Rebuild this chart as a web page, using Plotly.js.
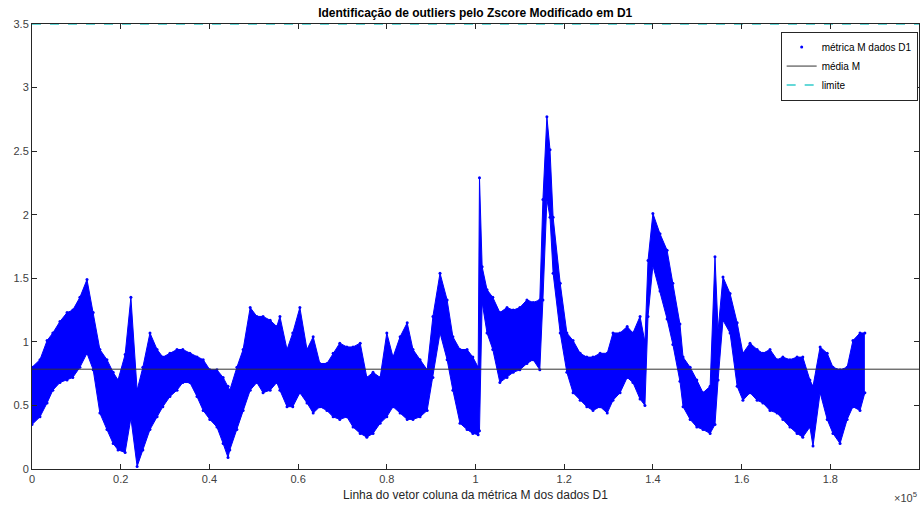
<!DOCTYPE html>
<html><head><meta charset="utf-8">
<script src="https://cdn.plot.ly/plotly-3.0.1.min.js"></script>
<style>html,body{margin:0;padding:0;background:#fff}</style>
</head><body>
<div id="chart" style="width:921px;height:509px"></div>
<script>
// Row index (vector row) samples along the band
const rows = [0,1800,3400,4700,6300,7900,9200,10800,12400,13800,15300,16900,18300,19400,21000,22300,23700,25000,26600,28200,29500,31100,32700,34000,35600,37200,38600,40100,41700,43100,44200,44600,46200,47600,49200,50700,52100,53700,55200,55900,57500,58800,60400,62000,63400,64900,66500,67900,69400,71000,72400,74000,75500,76900,78500,80000,81400,83000,84600,85900,87500,89100,90400,92000,93600,94900,96500,98100,99400,100600,100900,101500,102600,103900,105500,107100,108500,110000,111600,113000,114500,115200,116100,116800,117500,119100,120600,122000,123600,125100,126500,128100,129700,131000,132600,134200,135500,137100,138200,138900,140000,141600,143200,144500,146100,146800,148400,149900,151300,152900,154000,154700,155800,157400,159000,160300,161900,163500,164800,166400,168000,169300,170900,172500,173800,175400,176100,177700,179300,180600,182200,183800,185100,186700,187800];
// Upper envelope of metric M
const upperM = [0.80,0.86,1.01,1.07,1.16,1.23,1.25,1.35,1.49,1.23,0.94,0.86,0.76,0.70,0.90,1.35,0.62,0.80,1.07,0.94,0.88,0.91,0.94,0.94,0.91,0.88,0.86,0.78,0.78,0.72,0.65,0.62,0.80,0.94,1.27,1.20,1.20,1.17,1.12,1.20,0.94,1.07,1.27,0.94,1.04,0.83,0.83,0.91,0.99,0.96,0.96,0.99,0.72,0.76,0.72,1.07,0.88,1.04,1.15,0.94,0.86,0.78,1.20,1.54,1.33,1.04,0.94,0.94,0.88,0.80,2.29,1.59,1.41,1.35,1.23,1.27,1.25,1.27,1.33,1.31,1.33,2.12,2.77,2.51,1.98,1.46,1.07,1.01,0.91,0.88,0.88,0.91,0.91,1.07,1.07,1.12,1.07,1.20,1.00,1.64,2.01,1.85,1.72,1.46,1.14,0.88,0.80,0.70,0.60,0.65,1.67,1.09,1.51,1.38,1.15,0.91,0.99,0.94,0.91,0.94,0.86,0.88,0.86,0.88,0.88,0.70,0.65,0.96,0.91,0.80,0.78,0.80,1.01,1.07,1.07];
// Lower envelope of metric M
const lowerM = [0.35,0.41,0.52,0.62,0.68,0.70,0.72,0.80,0.91,0.78,0.44,0.31,0.20,0.15,0.13,0.40,0.02,0.15,0.31,0.41,0.49,0.57,0.62,0.68,0.68,0.57,0.46,0.39,0.33,0.20,0.09,0.15,0.31,0.46,0.62,0.68,0.60,0.62,0.68,0.62,0.49,0.49,0.60,0.52,0.44,0.49,0.46,0.41,0.39,0.41,0.33,0.28,0.25,0.28,0.36,0.41,0.49,0.44,0.39,0.39,0.41,0.46,0.72,1.07,0.86,0.62,0.36,0.31,0.28,0.27,0.30,1.31,1.07,0.94,0.68,0.72,0.76,0.78,0.83,0.86,0.78,1.33,2.12,1.98,1.54,1.07,0.76,0.60,0.54,0.49,0.46,0.49,0.44,0.54,0.60,0.72,0.68,0.55,0.50,1.20,1.60,1.40,1.18,0.98,0.69,0.49,0.39,0.33,0.31,0.28,0.35,0.70,1.17,1.07,0.65,0.54,0.60,0.54,0.52,0.46,0.44,0.39,0.33,0.28,0.25,0.33,0.18,0.60,0.39,0.28,0.20,0.39,0.49,0.46,0.60];
const meanM = 0.785;
const limitM = 3.5;
const xRange = [0, 200000];
const xTicks = [0,20000,40000,60000,80000,100000,120000,140000,160000,180000,200000];
const xTickText = ['0','0.2','0.4','0.6','0.8','1','1.2','1.4','1.6','1.8','2'];
const labels = {
  title: 'Identificação de outliers pelo Zscore Modificado em D1',
  xlabel: 'Linha do vetor coluna da métrica M dos dados D1',
  series: 'métrica M dados D1',
  mean: 'média M',
  limit: 'limite'
};

const blue = 'rgb(0,0,255)';
const traces = [
  {x: rows, y: lowerM, mode: 'lines', line: {color: blue, width: 1}, showlegend: false, hoverinfo: 'skip'},
  {x: rows, y: upperM, mode: 'lines', line: {color: blue, width: 1}, fill: 'tonexty', fillcolor: blue, showlegend: false, hoverinfo: 'skip'},
  {x: rows.concat(rows), y: upperM.concat(lowerM), mode: 'markers', marker: {color: blue, size: 3}, name: labels.series},
  {x: xRange, y: [meanM, meanM], mode: 'lines', line: {color: '#333333', width: 1}, name: labels.mean},
  {x: xRange, y: [limitM, limitM], mode: 'lines', line: {color: '#33cccc', width: 1.5, dash: 'dash'}, name: labels.limit}
];

const axisCommon = {
  showline: true, linecolor: '#262626', linewidth: 1, mirror: 'ticks',
  ticks: 'inside', ticklen: 5, tickcolor: '#262626', showgrid: false, zeroline: false,
  tickfont: {family: 'Liberation Sans, Arial, sans-serif', size: 11, color: '#404040'}
};

const layout = {
  width: 921, height: 509,
  margin: {l: 32, r: 2, t: 24, b: 40},
  paper_bgcolor: '#fff', plot_bgcolor: '#fff',
  title: {text: '<b>' + labels.title + '</b>', x: 0.516, xanchor: 'center', y: 0.975, yanchor: 'middle',
          font: {family: 'Liberation Sans, Arial, sans-serif', size: 12, color: '#000'}},
  xaxis: Object.assign({}, axisCommon, {range: xRange, tickvals: xTicks, ticktext: xTickText,
          title: {text: labels.xlabel, standoff: 6, font: {family: 'Liberation Sans, Arial, sans-serif', size: 12, color: '#262626'}}}),
  yaxis: Object.assign({}, axisCommon, {range: [0, 3.5], dtick: 0.5, tick0: 0}),
  showlegend: true,
  legend: {x: 0.9985, xanchor: 'right', y: 0.983, yanchor: 'top', bgcolor: '#fff', bordercolor: '#262626', borderwidth: 1,
           traceorder: 'normal',
           font: {family: 'Liberation Sans, Arial, sans-serif', size: 10, color: '#000'}, tracegroupgap: 0, itemwidth: 30},
  annotations: [{xref: 'paper', yref: 'paper', x: 1.0, y: -0.042, xanchor: 'right', yanchor: 'top', showarrow: false,
                 text: '×10<sup>5</sup>', font: {family: 'Liberation Sans, Arial, sans-serif', size: 11, color: '#404040'}}]
};

Plotly.newPlot('chart', traces, layout, {displayModeBar: false, staticPlot: true});
</script>
</body></html>
